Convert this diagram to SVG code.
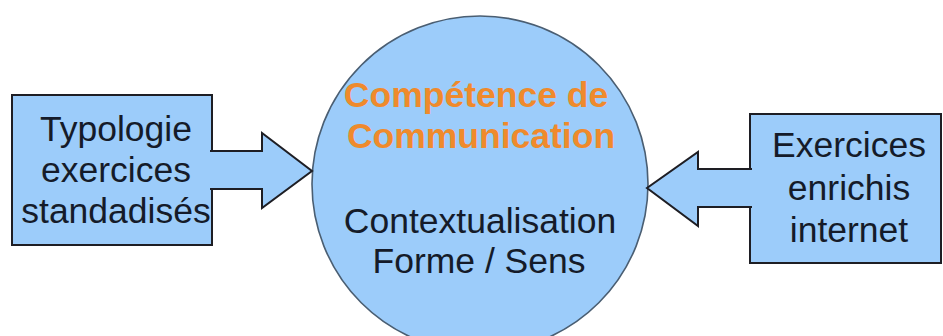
<svg xmlns="http://www.w3.org/2000/svg" width="943" height="336" viewBox="0 0 943 336">
<style>
.box{fill:#9cccfa;stroke:#1e1e24;stroke-width:2}
.arrow{fill:#9cccfa;stroke:#1e1e24;stroke-width:2;stroke-linejoin:miter}
.circ{fill:#9cccfa;stroke:#4a5e72;stroke-width:1.6}
.t{font-family:"Liberation Sans",Arial,sans-serif;font-size:35.5px;fill:#151b29;text-anchor:middle}
.o{font-family:"Liberation Sans",Arial,sans-serif;font-size:35.5px;font-weight:bold;fill:#ef8a2c;text-anchor:middle}
</style>
<rect width="943" height="336" fill="#ffffff"/>
<g id="centre">
<circle class="circ" cx="480" cy="184" r="168"/>
<text class="o" x="476" y="107">Compétence de</text>
<text class="o" x="481" y="148">Communication</text>
<text class="t" x="480" y="233">Contextualisation</text>
<text class="t" x="479" y="273">Forme / Sens</text>
</g>
<g id="typologie">
<rect class="box" x="12" y="95" width="200" height="150"/>
<text class="t" x="116" y="141">Typologie</text>
<text class="t" x="116" y="182">exercices</text>
<text class="t" x="116" y="223">standadisés</text>
</g>
<g id="exercices">
<rect class="box" x="750" y="114" width="191" height="149"/>
<text class="t" x="849" y="157">Exercices</text>
<text class="t" x="849" y="200">enrichis</text>
<text class="t" x="849" y="242">internet</text>
</g>
<g id="connectors">
<path class="arrow" d="M210 151 H262 V133 L312 171 L262 208 V189 H210"/>
<path class="arrow" d="M752 169 H698 V152 L647 188 L698 226 V207 H752"/>
</g>
</svg>
